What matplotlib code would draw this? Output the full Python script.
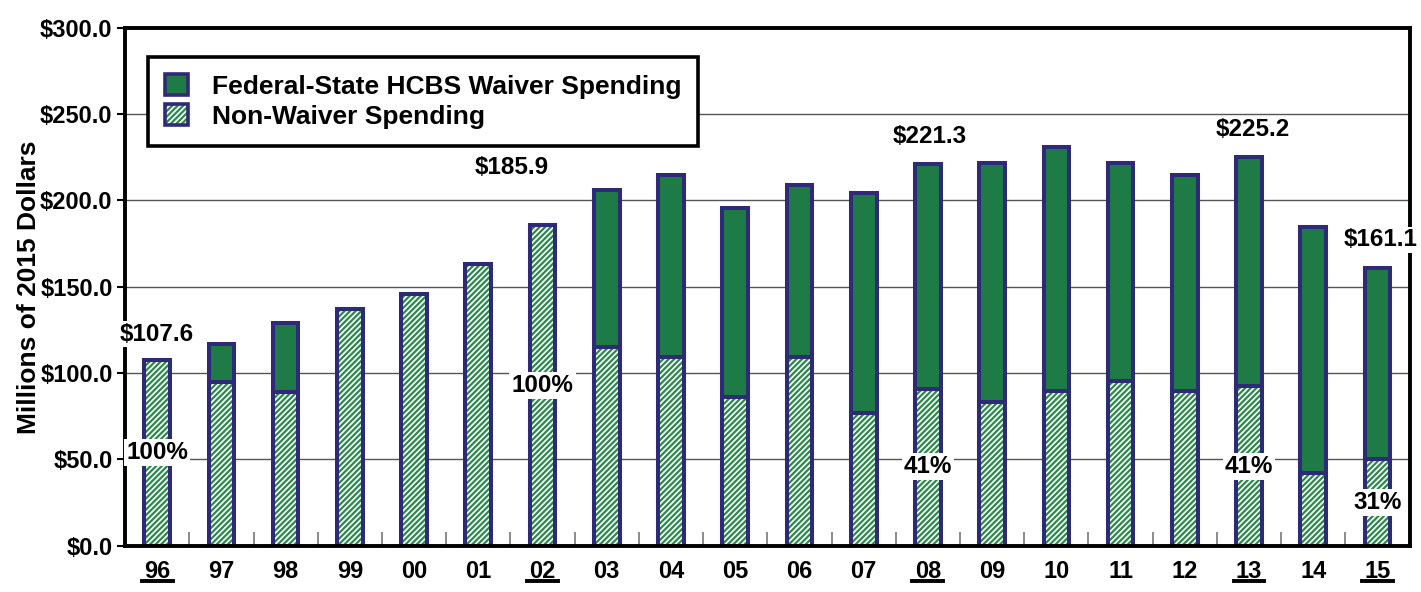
import matplotlib.pyplot as plt
from matplotlib.patches import Patch
from matplotlib.lines import Line2D
from matplotlib.ticker import FuncFormatter, MultipleLocator
import numpy as np

plt.rcParams['font.family'] = ['Liberation Sans', 'DejaVu Sans']
plt.rcParams['font.weight'] = 'bold'
plt.rcParams['hatch.color'] = '#2a8a4a'
plt.rcParams['hatch.linewidth'] = 1.6

years = ['96', '97', '98', '99', '00', '01', '02', '03', '04', '05',
         '06', '07', '08', '09', '10', '11', '12', '13', '14', '15']
total = [107.6, 117.0, 129.0, 137.0, 146.0, 163.0, 185.9, 206.0, 215.0, 195.7,
         209.0, 204.4, 221.3, 221.8, 231.0, 222.0, 215.0, 225.2, 184.7, 161.1]
non_waiver = [107.6, 95.0, 89.0, 137.0, 146.0, 163.0, 185.9, 115.0, 109.5, 86.0,
              109.5, 77.0, 90.7, 83.4, 89.7, 95.5, 89.7, 92.3, 42.3, 50.0]
highlight = ['96', '02', '08', '13', '15']

waiver = [t - n for t, n in zip(total, non_waiver)]
x = np.arange(len(years))
navy = '#2e2a78'
green = '#1e7b45'
hatch_green = '#2a8a4a'
w = 0.40

fig, ax = plt.subplots(figsize=(14.21, 5.92), dpi=100)
fig.subplots_adjust(left=0.088, right=0.992, top=0.953, bottom=0.078)

ax.set_axisbelow(True)
ax.yaxis.grid(True, color='#555555', linewidth=1.0)

# non-waiver part: hatched
ax.bar(x, non_waiver, width=w, color='white', edgecolor=hatch_green, hatch='//////',
       linewidth=0)
ax.bar(x, non_waiver, width=w, fill=False, edgecolor=navy, linewidth=2.9)
ax.bar(x, waiver, bottom=non_waiver, width=w, color=green, edgecolor=navy,
       linewidth=2.9)

ax.set_xlim(-0.5, len(years) - 0.5)
ax.set_ylim(0, 300)
ax.yaxis.set_major_locator(MultipleLocator(50))
ax.yaxis.set_major_formatter(FuncFormatter(lambda v, p: '$' + f'{v:.1f}'))
ax.set_xticks(x)
ax.set_xticklabels(years)
ax.set_xticks(x[:-1] + 0.5, minor=True)
ax.tick_params(axis='x', which='major', length=0, pad=10, labelsize=17)
ax.tick_params(axis='x', which='minor', direction='in', length=10, color='#777777',
               width=1.2)
ax.tick_params(axis='y', length=6, width=1.5, labelsize=17, pad=3)
for s in ax.spines.values():
    s.set_linewidth(2.8)
    s.set_color('black')

ax.set_ylabel('Millions of 2015 Dollars', fontsize=19, fontweight='bold', labelpad=-1)

# underline highlighted years
for yr in highlight:
    i = years.index(yr)
    ax.add_line(Line2D([i - 0.24, i + 0.24], [-0.068, -0.068], color='black', lw=2.8,
                       transform=ax.get_xaxis_transform(), clip_on=False))

# total labels
offsets = {'96': (0, 26), '02': (-31, 57), '08': (2, 27), '13': (4, 27), '15': (3, 28)}
for yr, off in offsets.items():
    i = years.index(yr)
    ax.annotate('$' + f'{total[i]:.1f}', (i, total[i]), xytext=off,
                textcoords='offset pixels', ha='center', va='center',
                fontsize=17.5, fontweight='bold',
                bbox=dict(facecolor='white', edgecolor='none', pad=1.0))

# share labels
share_y = {'96': 54, '02': 93, '08': 46, '13': 46, '15': 25}
for yr, yy in share_y.items():
    i = years.index(yr)
    pct = round(100 * non_waiver[i] / total[i])
    ax.text(i, yy, f'{pct}%', ha='center', va='center', fontsize=17.5,
            fontweight='bold',
            bbox=dict(facecolor='white', edgecolor='none', pad=1.5))

handles = [Patch(facecolor=green, edgecolor=navy, linewidth=2.6),
           (Patch(facecolor='white', edgecolor=hatch_green, hatch='//////', linewidth=0),
            Patch(fill=False, edgecolor=navy, linewidth=2.6))]
leg = ax.legend(handles, ['Federal-State HCBS Waiver Spending', 'Non-Waiver Spending'],
                loc='upper left', bbox_to_anchor=(0.018, 0.944), borderaxespad=0,
                fontsize=19, frameon=True, fancybox=False, edgecolor='black',
                framealpha=1, handlelength=0.85, handleheight=0.85, borderpad=0.65,
                labelspacing=0.2, handletextpad=0.9)
leg.get_frame().set_linewidth(2.6)
for t in leg.get_texts():
    t.set_fontweight('bold')

fig.savefig('out.png', dpi=100)
